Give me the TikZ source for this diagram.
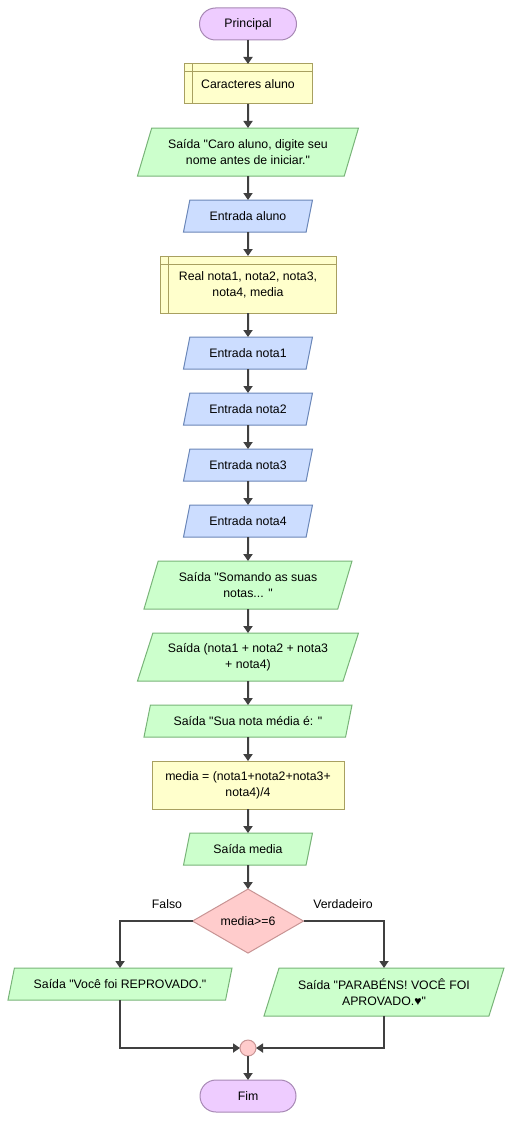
\documentclass[tikz,border=0pt]{standalone}
\usepackage{fontspec}
\setmainfont{Liberation Sans}[Ligatures=TeXOff]
\usepackage{tikz}
\usetikzlibrary{positioning}
\usetikzlibrary{shapes.geometric}
\usetikzlibrary{arrows.meta}
\definecolor{termfill}{HTML}{EECCFF}
\definecolor{termborder}{HTML}{A788B4}
\definecolor{declfill}{HTML}{FFFFCC}
\definecolor{declborder}{HTML}{A8A060}
\definecolor{infill}{HTML}{CCDDFF}
\definecolor{inborder}{HTML}{6A86B8}
\definecolor{outfill}{HTML}{CCFFCC}
\definecolor{outborder}{HTML}{78B478}
\definecolor{iffill}{HTML}{FFCCCC}
\definecolor{ifborder}{HTML}{C89494}
\definecolor{flowline}{HTML}{404040}

\begin{document}
\begin{tikzpicture}[x=1pt,y=1pt,node distance=24pt,
    font=\fontsize{12.3}{16}\selectfont,
    box/.style={draw, line width=1pt, align=center, inner sep=2pt, outer sep=0pt},
    term/.style={box, fill=termfill, draw=termborder, rounded corners=16pt, minimum height=32pt, minimum width=97pt},
    decl/.style={box, fill=declfill, draw=declborder, path picture={
        \draw[declborder, line width=1pt]
          ([xshift=8pt]path picture bounding box.north west) -- ([xshift=8pt]path picture bounding box.south west)
          ([yshift=-8pt]path picture bounding box.north west) -- ([yshift=-8pt]path picture bounding box.north east);}},
    assign/.style={box, fill=declfill, draw=declborder},
    io/.style={box, trapezium, trapezium left angle=64, trapezium right angle=116, trapezium stretches body, minimum height=32pt},
    inp/.style={io, fill=infill, draw=inborder, minimum width=129pt},
    outp/.style={io, fill=outfill, draw=outborder},
    cond/.style={box, diamond, aspect=1.7, inner sep=0pt, fill=iffill, draw=ifborder, minimum width=111pt, minimum height=64pt},
    merge/.style={circle, draw=ifborder, fill=iffill, line width=1pt, minimum size=16pt, inner sep=0pt, outer sep=0pt},
    arr/.style={draw=flowline, line width=2pt, -{Triangle[length=7pt,width=9pt]}}]
        \useasboundingbox (0,0) rectangle (513,-1121);
        % Nodes
        \node[term]                       (start)    at (248,-24) {Principal};
        \node[decl, below=of start, minimum width=128pt, minimum height=40pt] (chars) {Caracteres aluno};
        \node[outp, below=of chars, minimum width=221pt, minimum height=48pt] (msg) {Saída "Caro aluno, digite seu\\nome antes de iniciar."};
        \node[inp, below=of msg]          (inaluno)  {Entrada aluno};
        \node[decl, below=of inaluno, minimum width=176pt, minimum height=57pt] (reals) {Real nota1, nota2, nota3,\\nota4, media};
        \node[inp, below=of reals]        (in1)      {Entrada nota1};
        \node[inp, below=of in1]          (in2)      {Entrada nota2};
        \node[inp, below=of in2]          (in3)      {Entrada nota3};
        \node[inp, below=of in3]          (in4)      {Entrada nota4};
        \node[outp, below=of in4, minimum width=208pt, minimum height=48pt] (soma) {Saída "Somando as suas\\notas... "};
        \node[outp, below=of soma, minimum width=221pt, minimum height=48pt] (total) {Saída (nota1 + nota2 + nota3\\+ nota4)};
        \node[outp, below=of total, minimum width=208pt] (sua) {Saída "Sua nota média é: "};
        \node[assign, below=of sua, minimum width=192pt, minimum height=48pt] (calc) {media = (nota1+nota2+nota3+\\nota4)/4};
        \node[outp, below=of calc, minimum width=129pt] (outmedia) {Saída media};
        \node[cond, below=of outmedia]    (test)     {media>=6};
        \node[outp, minimum width=224pt]  (reprov)   at (120,-984) {Saída "Você foi REPROVADO."};
        \node[outp, minimum width=240pt, minimum height=48pt] (aprov) at (384,-992) {Saída "PARABÉNS! VOCÊ FOI\\APROVADO.♥"};
        \node[merge]                      (join)     at (248,-1048) {};
        \node[term, below=of join, minimum width=96pt] (fim) {Fim};
        \node                             (falso)    at (167,-904) {Falso};
        \node                             (verd)     at (343,-904) {Verdadeiro};

        % Edges
        \draw[arr] (start)    -- (chars);
        \draw[arr] (chars)    -- (msg);
        \draw[arr] (msg)      -- (inaluno);
        \draw[arr] (inaluno)  -- (reals);
        \draw[arr] (reals)    -- (in1);
        \draw[arr] (in1)      -- (in2);
        \draw[arr] (in2)      -- (in3);
        \draw[arr] (in3)      -- (in4);
        \draw[arr] (in4)      -- (soma);
        \draw[arr] (soma)     -- (total);
        \draw[arr] (total)    -- (sua);
        \draw[arr] (sua)      -- (calc);
        \draw[arr] (calc)     -- (outmedia);
        \draw[arr] (outmedia) -- (test);
        \draw[arr] (test)     -| (reprov);
        \draw[arr] (test)     -| (aprov);
        \draw[arr] (reprov)   |- (join);
        \draw[arr] (aprov)    |- (join);
        \draw[arr] (join)     -- (fim);
\end{tikzpicture}
\end{document}
